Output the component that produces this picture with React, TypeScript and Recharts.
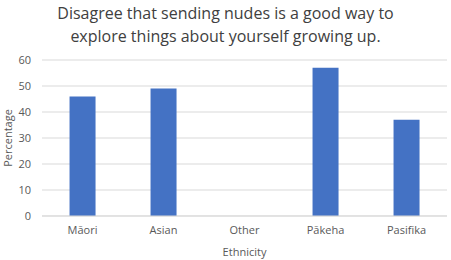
import { BarChart, Bar, XAxis, YAxis, CartesianGrid, Label } from "recharts";

const categories = ["Māori", "Asian", "Other", "Pākeha", "Pasifika"];
const percentages = [46, 49, 0, 57, 37];
const yTicks = [0, 10, 20, 30, 40, 50, 60];

const titleLines = [
  "Disagree that sending nudes is a good way to",
  "explore things about yourself growing up.",
];

const data = categories.map((name, i) => ({ name, value: percentages[i] }));

const font = "'Open Sans', sans-serif";

export default function App() {
  return (
    <div style={{ position: "absolute", left: 0, top: 0, width: 451, height: 260, background: "#fff", fontFamily: font }}>
      <div
        style={{
          position: "absolute",
          left: 0,
          top: 2,
          width: 451,
          textAlign: "center",
          fontSize: 16,
          lineHeight: "23px",
          color: "#404040",
        }}
      >
        {titleLines.map((t) => (
          <div key={t}>{t}</div>
        ))}
      </div>
      <BarChart
        width={451}
        height={260}
        data={data}
        margin={{ top: 60, right: 4, left: 0, bottom: 0 }}
        barCategoryGap="34%"
      >
        <CartesianGrid vertical={false} stroke="#d9d9d9" />
        <XAxis
          dataKey="name"
          height={44}
          tickLine={false}
          tickSize={0}
          tickMargin={10}
          axisLine={{ stroke: "#d9d9d9" }}
          tick={{ fontSize: 11, fill: "#595959", fontFamily: font }}
        >
          <Label value="Ethnicity" position="insideBottom" offset={4} style={{ fontSize: 11, fill: "#595959", fontFamily: font }} />
        </XAxis>
        <YAxis
          width={42}
          domain={[0, 60]}
          ticks={yTicks}
          tickLine={false}
          axisLine={false}
          tickSize={0}
          tickMargin={11}
          tick={{ fontSize: 11, fill: "#595959", fontFamily: font }}
        >
          <Label
            value="Percentage"
            angle={-90}
            position="insideLeft"
            offset={8}
            style={{ fontSize: 11, fill: "#595959", fontFamily: font, textAnchor: "middle" }}
          />
        </YAxis>
        <Bar dataKey="value" fill="#4472c4" isAnimationActive={false} />
      </BarChart>
    </div>
  );
}
